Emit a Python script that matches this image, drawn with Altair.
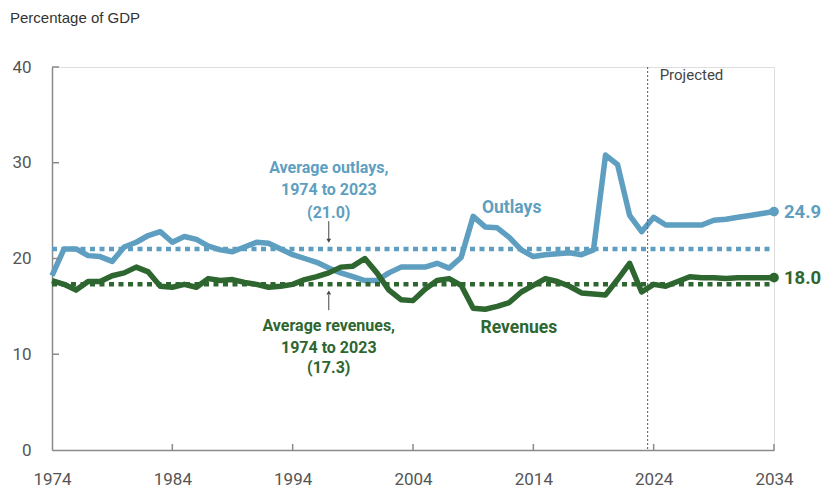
import altair as alt
import pandas as pd

years = list(range(1974, 2035))
outlays = [18.2, 21.0, 21.0, 20.3, 20.2, 19.7, 21.2, 21.7, 22.4, 22.8,
           21.7, 22.3, 22.0, 21.3, 20.9, 20.7, 21.2, 21.7, 21.6, 21.0,
           20.4, 20.0, 19.6, 19.0, 18.5, 18.1, 17.7, 17.7, 18.5, 19.1,
           19.1, 19.1, 19.5, 19.0, 20.1, 24.4, 23.3, 23.2, 22.2, 20.9,
           20.2, 20.4, 20.5, 20.6, 20.4, 20.9, 30.8, 29.8, 24.5, 22.8,
           24.3, 23.5, 23.5, 23.5, 23.5, 24.0, 24.1, 24.3, 24.5, 24.7, 24.9]
revenues = [17.7, 17.3, 16.7, 17.6, 17.6, 18.2, 18.5, 19.1, 18.6, 17.1,
            17.0, 17.3, 17.0, 17.9, 17.7, 17.8, 17.5, 17.3, 17.0, 17.1,
            17.3, 17.8, 18.1, 18.5, 19.1, 19.2, 20.0, 18.5, 16.7, 15.7,
            15.6, 16.8, 17.7, 17.9, 17.2, 14.8, 14.7, 15.0, 15.4, 16.5,
            17.2, 17.9, 17.6, 17.1, 16.4, 16.3, 16.2, 17.8, 19.5, 16.5,
            17.3, 17.1, 17.6, 18.1, 18.0, 18.0, 17.9, 18.0, 18.0, 18.0, 18.0]

avg_outlays = 21.0
avg_revenues = 17.3
x_ticks = [1974, 1984, 1994, 2004, 2014, 2024, 2034]
y_ticks = [0, 10, 20, 30, 40]
projection_start = 2023.5

BLUE = "#5e9fc1"
GREEN = "#2e6630"
FONT = "Roboto"

W, H = 722, 383

xs = alt.Scale(domain=[1974, 2034], nice=False, zero=False)
ys = alt.Scale(domain=[0, 40], nice=False)
cs = alt.Scale(domain=["o", "r"], range=[BLUE, GREEN])

base_x = alt.X("year:Q", scale=xs,
               axis=alt.Axis(values=x_ticks, format="d", ticks=False, grid=False,
                             domainColor="#8a8a8a", domainWidth=1.5, labelFlush=False,
                             labelFont=FONT, labelFontSize=17, labelColor="#555555",
                             labelPadding=21, title=None))
base_y = alt.Y("v:Q", scale=ys,
               axis=alt.Axis(values=y_ticks, ticks=False, grid=False,
                             domainColor="#8a8a8a", domainWidth=1.5, labelFlush=False,
                             labelFont=FONT, labelFontSize=17, labelColor="#555555",
                             labelPadding=21, title=None))

out_df = pd.DataFrame({"year": years, "v": outlays})
rev_df = pd.DataFrame({"year": years, "v": revenues})

line_out = alt.Chart(out_df).mark_line(color=BLUE, strokeWidth=5.5, strokeJoin="round").encode(x=base_x, y=base_y)
line_rev = alt.Chart(rev_df).mark_line(color=GREEN, strokeWidth=5.5, strokeJoin="round").encode(
    x=alt.X("year:Q", scale=xs), y=alt.Y("v:Q", scale=ys))

avg_df = pd.DataFrame({"x0": [1974, 1974], "x1": [2034, 2034],
                       "v": [avg_outlays, avg_revenues], "s": ["o", "r"]})
avg_rules = alt.Chart(avg_df).mark_rule(strokeWidth=4.5, strokeDash=[5, 4.5]).encode(
    x=alt.X("x0:Q", scale=xs), x2="x1:Q", y=alt.Y("v:Q", scale=ys),
    color=alt.Color("s:N", scale=cs, legend=None))

proj_df = pd.DataFrame({"year": [projection_start]})
proj_rule = alt.Chart(proj_df).mark_rule(color="#555555", strokeWidth=1, strokeDash=[2, 2]).encode(
    x=alt.X("year:Q", scale=xs), y=alt.value(0), y2=alt.value(H))
proj_text = alt.Chart(proj_df).mark_text(text="Projected", align="left", baseline="middle",
                                         font=FONT, fontSize=15, color="#444444", dx=12).encode(
    x=alt.X("year:Q", scale=xs), y=alt.value(8))

end_df = pd.DataFrame({"year": [2034, 2034], "v": [outlays[-1], revenues[-1]], "s": ["o", "r"],
                       "t": [f"{outlays[-1]:.1f}", f"{revenues[-1]:.1f}"]})
end_dots = alt.Chart(end_df).mark_circle(size=95, opacity=1).encode(
    x=alt.X("year:Q", scale=xs), y=alt.Y("v:Q", scale=ys), color=alt.Color("s:N", scale=cs, legend=None))
end_text = alt.Chart(end_df).mark_text(align="left", baseline="middle", dx=10, font=FONT,
                                       fontSize=18.5, fontWeight="bold").encode(
    x=alt.X("year:Q", scale=xs), y=alt.Y("v:Q", scale=ys), text="t:N",
    color=alt.Color("s:N", scale=cs, legend=None))

# annotations (position in data units)
ann_year = [1997.0, 1997.0, 1997.0, 1997.0, 1997.0, 1997.0, 2012.2, 2012.8]
ann_v = [29.45, 27.15, 24.75, 12.9, 10.7, 8.6, 25.25, 12.75]
ann_t = ["Average outlays,", "1974 to 2023", "(21.0)",
         "Average revenues,", "1974 to 2023", "(17.3)", "Outlays", "Revenues"]
ann_s = ["o", "o", "o", "r", "r", "r", "o", "r"]
ann_size = [16, 16, 16, 16, 16, 16, 17.5, 17.5]
ann_df = pd.DataFrame({"year": ann_year, "v": ann_v, "t": ann_t, "s": ann_s, "fs": ann_size})
ann_text = alt.Chart(ann_df).mark_text(align="center", baseline="middle", font=FONT, fontWeight="bold").encode(
    x=alt.X("year:Q", scale=xs), y=alt.Y("v:Q", scale=ys), text="t:N",
    size=alt.Size("fs:Q", scale=None, legend=None),
    color=alt.Color("s:N", scale=cs, legend=None))

arrow_df = pd.DataFrame({"year": [1997.0, 1997.0], "v0": [23.9, 14.6], "v1": [22.0, 16.2]})
arrow_rules = alt.Chart(arrow_df).mark_rule(color="#444444", strokeWidth=1).encode(
    x=alt.X("year:Q", scale=xs), y=alt.Y("v0:Q", scale=ys), y2="v1:Q")
head_df = pd.DataFrame({"year": [1997.0, 1997.0], "v": [21.85, 16.45], "shape": ["triangle-down", "triangle-up"]})
arrow_heads = alt.Chart(head_df).mark_point(filled=True, color="#444444", size=22, opacity=1).encode(
    x=alt.X("year:Q", scale=xs), y=alt.Y("v:Q", scale=ys),
    shape=alt.Shape("shape:N", scale=None, legend=None))

# inward ticks
ytick_df = pd.DataFrame({"v": y_ticks[1:]})
ytick_marks = alt.Chart(ytick_df).mark_rule(color="#8a8a8a", strokeWidth=1.5).encode(
    y=alt.Y("v:Q", scale=ys), x=alt.value(0), x2=alt.value(7))
xtick_df = pd.DataFrame({"year": x_ticks[1:]})
xtick_marks = alt.Chart(xtick_df).mark_rule(color="#8a8a8a", strokeWidth=1.5).encode(
    x=alt.X("year:Q", scale=xs), y=alt.value(H), y2=alt.value(H - 6))

title_text = alt.Chart(pd.DataFrame({"t": ["Percentage of GDP"]})).mark_text(
    align="left", baseline="middle", font="Liberation Sans", fontSize=15, color="#333333").encode(
    x=alt.value(-42), y=alt.value(-49), text="t:N")

chart = alt.layer(
    line_out, avg_rules, proj_rule, line_rev, end_dots, end_text, proj_text,
    ann_text, arrow_rules, arrow_heads, ytick_marks, xtick_marks, title_text
).properties(
    width=W, height=H,
    autosize=alt.AutoSizeParams(type="none"),
    padding={"left": 52, "top": 67, "right": 62, "bottom": 53},
).configure_view(stroke=None).configure(background="white")

chart.save("out.html", embed_options={"renderer": "svg", "actions": False})
